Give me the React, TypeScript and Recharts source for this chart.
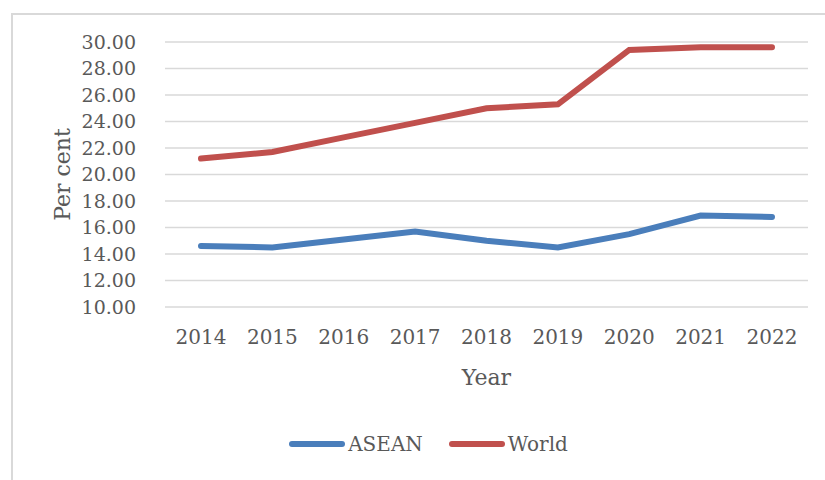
import { LineChart, Line, XAxis, YAxis, CartesianGrid, Legend } from "recharts";

const years = ["2014", "2015", "2016", "2017", "2018", "2019", "2020", "2021", "2022"];
const asean = [14.6, 14.5, 15.1, 15.7, 15.0, 14.5, 15.5, 16.9, 16.8];
const world = [21.2, 21.7, 22.8, 23.9, 25.0, 25.3, 29.4, 29.6, 29.6];
const yTicks = [10, 12, 14, 16, 18, 20, 22, 24, 26, 28, 30];

const data = years.map((year, i) => ({ year, ASEAN: asean[i], World: world[i] }));

const FONT = "'DejaVu Serif', serif";
const TEXT = "#595959";

function YLabel({ viewBox }: any) {
  const cy = viewBox.y + viewBox.height / 2;
  return (
    <text x={62} y={cy} transform={`rotate(-90, 62, ${cy})`} textAnchor="middle" dominantBaseline="central"
      fill={TEXT} fontFamily={FONT} fontSize={22}>
      Per cent
    </text>
  );
}

function XLabel({ viewBox }: any) {
  const cx = viewBox.x + viewBox.width / 2;
  return (
    <text x={cx} y={377} textAnchor="middle" dominantBaseline="central" fill={TEXT} fontFamily={FONT} fontSize={22}>
      Year
    </text>
  );
}

function LegendContent({ payload }: any) {
  return (
    <div style={{ display: "flex", justifyContent: "center", gap: 26, paddingLeft: 32, fontFamily: FONT, fontSize: 20, color: TEXT }}>
      {(payload || []).map((p: any) => (
        <div key={p.value} style={{ display: "flex", alignItems: "center" }}>
          <span style={{ display: "inline-block", width: 56, height: 6, borderRadius: 3, background: p.color, marginRight: 3 }} />
          <span>{p.value}</span>
        </div>
      ))}
    </div>
  );
}

export default function App() {
  return (
    <div style={{ position: "absolute", left: 0, top: 0, width: 825, height: 480, background: "#fff", overflow: "hidden" }}>
      <div style={{ position: "absolute", left: 11, top: 13, width: 840, height: 500, border: "2px solid #d9d9d9" }} />
      <LineChart width={825} height={480} data={data} margin={{ top: 42, right: 17, bottom: 0, left: 0 }}>
        <CartesianGrid vertical={false} stroke="#d9d9d9" strokeWidth={1.5} />
        <XAxis dataKey="year" axisLine={false} tickLine={false} height={100} tickMargin={17}
          padding={{ left: 36, right: 36 }}
          tick={{ fill: TEXT, fontFamily: FONT, fontSize: 20 }} label={<XLabel />} />
        <YAxis width={165} domain={[10, 30]} ticks={yTicks} interval={0} axisLine={false} tickLine={false} tickMargin={23}
          tickFormatter={(v: number) => v.toFixed(2)} tick={{ fill: TEXT, fontFamily: FONT, fontSize: 19 }}
          label={<YLabel />} />
        <Legend verticalAlign="bottom" height={73} content={<LegendContent />}
          wrapperStyle={{ top: 432, left: 0, width: 825 }} />
        <Line type="linear" dataKey="ASEAN" stroke="#4a7ebb" strokeWidth={6} dot={false} strokeLinecap="round" isAnimationActive={false} />
        <Line type="linear" dataKey="World" stroke="#c0504d" strokeWidth={6} dot={false} strokeLinecap="round" isAnimationActive={false} />
      </LineChart>
    </div>
  );
}
